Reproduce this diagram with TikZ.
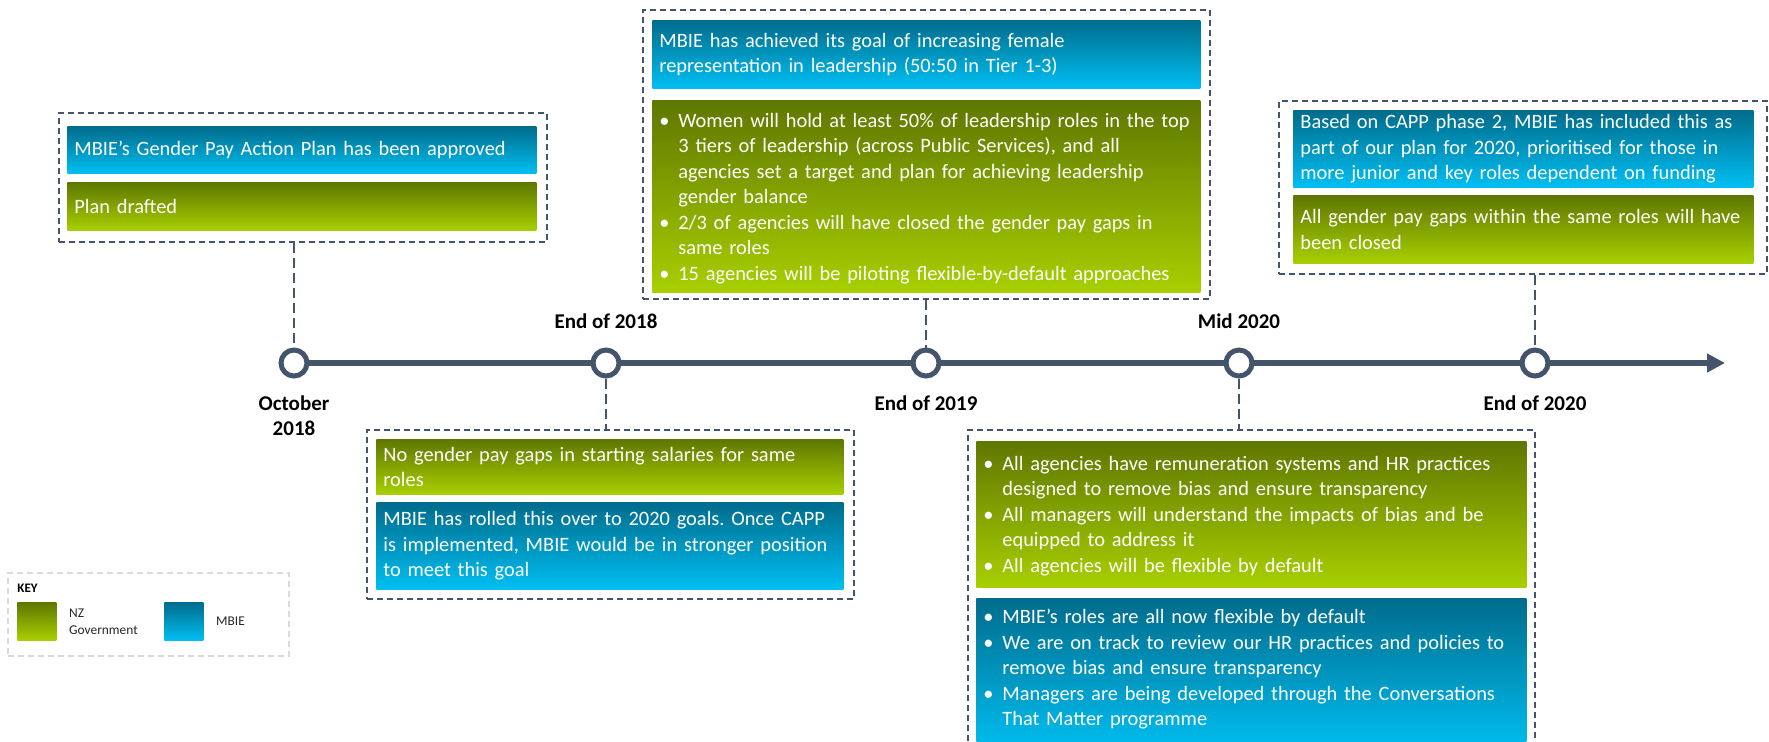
\documentclass[tikz,border=0pt]{standalone}
\usepackage{fontspec}
\setmainfont{Carlito}
\usepackage{xcolor}
\usetikzlibrary{positioning, arrows.meta}
\definecolor{slate}{HTML}{44546A}
\definecolor{govtop}{HTML}{5F7700}
\definecolor{govbot}{HTML}{A8D000}
\definecolor{mbietop}{HTML}{006C8C}
\definecolor{mbiebot}{HTML}{00BFF2}
\definecolor{keyline}{HTML}{D9D9D9}
\frenchspacing
\hyphenpenalty=10000
\exhyphenpenalty=10000
% bullet line with hanging indent
\newcommand{\bul}{\par\hangindent=9.5pt\hangafter=1\noindent\makebox[9.5pt][l]{\textbullet}}
\tikzset{
  bar/.style={anchor=north west, text=white, align=left, inner xsep=3.5pt, inner ysep=0pt,
    font=\fontsize{10.2pt}{12.75pt}\selectfont},
  gov/.style={bar, top color=govtop, bottom color=govbot},
  mbie/.style={bar, top color=mbietop, bottom color=mbiebot},
  frame/.style={draw=slate, line width=1pt, dash pattern=on 3pt off 2pt, anchor=north west, inner sep=0pt},
  stem/.style={draw=slate, line width=1.2pt, dash pattern=on 5pt off 2.5pt},
  axis/.style={draw=slate, line width=3pt, -{Triangle[length=9pt, width=9pt]}},
  ring/.style={circle, draw=slate, fill=white, line width=2.5pt, minimum size=13pt, inner sep=0pt},
  date/.style={font=\fontsize{10.5pt}{12.5pt}\selectfont\bfseries, align=center, inner sep=0pt},
  swatch/.style={anchor=north west, minimum width=19.5pt, minimum height=19pt, inner sep=0pt},
  keytext/.style={font=\fontsize{6.7pt}{8.5pt}\selectfont, text=black!85, align=left, inner sep=0pt}
}
\begin{document}
\begin{tikzpicture}[x=0.5pt, y=-0.5pt]
  \useasboundingbox (0,0) rectangle (1769,741);

  % timeline
  \coordinate (A) at (294,363);
  \coordinate (B) at (606,363);
  \coordinate (C) at (926,363);
  \coordinate (D) at (1239,363);
  \coordinate (E) at (1535,363);
  \coordinate (T) at (1725,363);
  \draw[axis] (A) -- (T);
  \foreach \p in {A,B,C,D,E} \node[ring] (r\p) at (\p) {};

  \node[date, below=8.5pt of rA] (dA) {October\\2018};
  \node[date, above=9pt of rB] (dB) {End of 2018};
  \node[date, below=8.5pt of rC] (dC) {End of 2019};
  \node[date, above=9pt of rD] (dD) {Mid 2020};
  \node[date, below=8.5pt of rE] (dE) {End of 2020};

  % October 2018
  \node[frame, minimum width=244pt, minimum height=64.5pt] (fA) at (58,112) {};
  \node[mbie, minimum width=234.5pt, minimum height=23.5pt, text width=227.5pt] (bA) at (67,126)
    {MBIE’s Gender Pay Action Plan has been approved};
  \node[gov, minimum width=234.5pt, minimum height=24pt, text width=227.5pt] (gA) at (67,182)
    {Plan drafted};
  \draw[stem] (fA.south -| rA) -- (rA.north);

  % End of 2018
  \node[frame, minimum width=243.5pt, minimum height=84.5pt] (fB) at (366,429) {};
  \node[gov, minimum width=233.5pt, minimum height=27.5pt, text width=226.5pt] (gB) at (376,439)
    {No gender pay gaps in starting salaries for same\\roles};
  \node[mbie, minimum width=233.5pt, minimum height=43.5pt, text width=226.5pt] (bB) at (376,502)
    {MBIE has rolled this over to 2020 goals. Once CAPP\\is implemented, MBIE would be in stronger position\\to meet this goal};
  \draw[stem] (rB.south) -- (rB |- fB.north);

  % End of 2019
  \node[frame, minimum width=283.5pt, minimum height=144.5pt] (fC) at (642,9) {};
  \node[mbie, minimum width=274pt, minimum height=34pt, text width=267pt] (bC) at (652,20)
    {MBIE has achieved its goal of increasing female\\representation in leadership (50:50 in Tier 1-3)};
  \node[gov, minimum width=274pt, minimum height=96pt, text width=267pt] (gC) at (652,100)
    {\bul Women will hold at least 50\% of leadership roles in the top\newline
      3 tiers of leadership (across Public Services), and all\newline
      agencies set a target and plan for achieving leadership\newline
      gender balance
     \bul 2/3 of agencies will have closed the gender pay gaps in\newline
      same roles
     \bul 15 agencies will be piloting flexible-by-default approaches\par\kern3.5pt};
  \draw[stem] (fC.south -| rC) -- (rC.north);

  % Mid 2020
  \node[frame, minimum width=283.5pt, minimum height=170.5pt] (fD) at (967,429) {};
  \node[gov, minimum width=275pt, minimum height=73pt, text width=268pt] (gD) at (976,441)
    {\bul All agencies have remuneration systems and HR practices\newline
      designed to remove bias and ensure transparency
     \bul All managers will understand the impacts of bias and be\newline
      equipped to address it
     \bul All agencies will be flexible by default\par\kern4pt};
  \node[mbie, minimum width=275pt, minimum height=74pt, text width=268pt] (bD) at (976,598)
    {\bul MBIE’s roles are all now flexible by default
     \bul We are on track to review our HR practices and policies to\newline
      remove bias and ensure transparency
     \bul Managers are being developed through the Conversations\newline
      That Matter programme\par\kern11pt};
  \draw[stem] (rD.south) -- (rD |- fD.north);

  % End of 2020
  \node[frame, minimum width=244pt, minimum height=86.5pt] (fE) at (1278,100) {};
  \node[mbie, minimum width=230pt, minimum height=38.5pt, text width=223pt] (bE) at (1293,110)
    {Based on CAPP phase 2, MBIE has included this as\\part of our plan for 2020, prioritised for those in\\more junior and key roles dependent on funding};
  \node[gov, minimum width=230pt, minimum height=34pt, text width=223pt] (gE) at (1293,195)
    {All gender pay gaps within the same roles will have\\been closed};
  \draw[stem] (fE.south -| rE) -- (rE.north);

  % key
  \node[frame, draw=keyline, line width=0.8pt, minimum width=140.5pt, minimum height=41.5pt] (key) at (7,572) {};
  \node[anchor=west, inner sep=0pt, font=\fontsize{6.5pt}{8pt}\selectfont\bfseries] (keyT) at (17,588) {KEY};
  \node[swatch, top color=govtop, bottom color=govbot] (kG) at (17,602) {};
  \node[keytext, right=6pt of kG] (kGt) {NZ\\Government};
  \node[swatch, top color=mbietop, bottom color=mbiebot] (kM) at (164,602) {};
  \node[keytext, right=6pt of kM] (kMt) {MBIE};
\end{tikzpicture}
\end{document}
